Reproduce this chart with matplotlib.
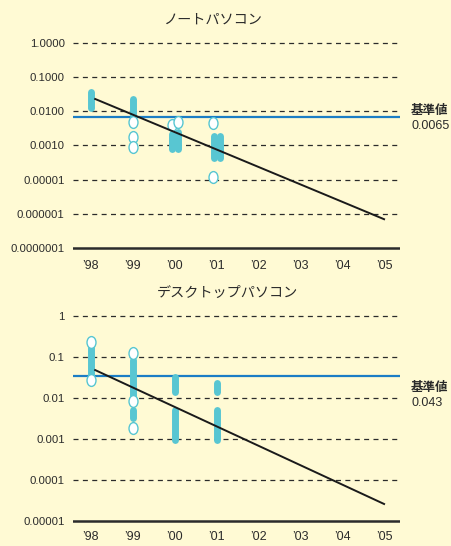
import matplotlib
matplotlib.use("Agg")
import matplotlib.pyplot as plt
from matplotlib.path import Path
from matplotlib.transforms import Affine2D

plt.rcParams['font.family'] = ['Liberation Sans', 'Noto Sans CJK JP', 'DejaVu Sans']

# ---------------- data ----------------
years = [1998, 1999, 2000, 2001, 2002, 2003, 2004, 2005]
year_labels = ["’98", "’99", "’00", "’01", "’02", "’03", "’04", "’05"]

# Notebook PCs (top)
top_title = "ノートパソコン"
top_ticks = [1, 0.1, 0.01, 0.001, 1e-4, 1e-5, 1e-6]
top_tick_labels = ["1.0000", "0.1000", "0.0100", "0.0010", "0.00001", "0.000001", "0.0000001"]
top_ref = 0.0065
top_ref_label = "0.0065"
# filled ranges: (year, x-offset, low, high)
top_bars = [(1998, 0.0, 0.012, 0.037),
            (1999, 0.0, 0.0078, 0.023),
            (2000, -0.07, 0.00076, 0.0021),
            (2000, 0.07, 0.00076, 0.0024),
            (2001, -0.07, 0.00042, 0.0019),
            (2001, 0.07, 0.00042, 0.0019)]
# open points: (year, x-offset, value)
top_points = [(1999, 0.0, 0.0047), (1999, 0.0, 0.0018), (1999, 0.0, 0.00091),
              (2000, -0.07, 0.0039), (2000, 0.07, 0.0049),
              (2001, -0.08, 0.0046), (2001, -0.08, 0.000116)]
top_trend_x = [1998.1, 2005]
top_trend_y = [0.0226, 6.9e-6]

# Desktop PCs (bottom)
bot_title = "デスクトップパソコン"
bot_ticks = [1, 0.1, 0.01, 0.001, 1e-4, 1e-5]
bot_tick_labels = ["1", "0.1", "0.01", "0.001", "0.0001", "0.00001"]
bot_ref = 0.034
bot_ref_label = "0.043"
bot_bars = [(1998, 0.0, 0.0335, 0.178),
            (1999, 0.0, 0.0108, 0.084),
            (1999, 0.0, 0.0032, 0.0051),
            (2000, 0.0, 0.0143, 0.0327),
            (2000, 0.0, 0.00092, 0.0051),
            (2001, 0.0, 0.0143, 0.0237),
            (2001, 0.0, 0.00092, 0.0051)]
bot_points = [(1998, 0.0, 0.236), (1998, 0.0, 0.0275),
              (1999, 0.0, 0.127), (1999, 0.0, 0.0086), (1999, 0.0, 0.0019)]
bot_trend_x = [1998.1, 2005]
bot_trend_y = [0.048, 2.6e-5]

# ---------------- style ----------------
BG = "#FFFAD4"
BAR = "#58C6D2"
REF = "#1B7DC5"
INK = "#2b2b2b"
W, H = 451, 546
ellipse = Path.unit_circle().transformed(Affine2D().scale(0.76, 1.0))

fig = plt.figure(figsize=(W / 100, H / 100), dpi=100, facecolor=BG)

XMIN, XMAX = 1997.57, 2005.38


def make_panel(top_px, px_per_dec, lo_exp, hi_exp, ticks, tick_labels,
               bars, points, ref, ref_label, tx, ty, title, title_xy,
               base_val, ref_label_y, year_y):
    height_px = (hi_exp - lo_exp) * px_per_dec
    top_edge = top_px - hi_exp * px_per_dec
    bottom_px = top_edge + height_px
    ax = fig.add_axes([73 / W, 1 - bottom_px / H, 327 / W, height_px / H])
    ax.set_facecolor("none")
    ax.set_yscale("log")
    ax.set_ylim(10 ** lo_exp, 10 ** hi_exp)
    ax.set_xlim(XMIN, XMAX)
    for s in ax.spines.values():
        s.set_visible(False)
    for t in ticks:
        if t == base_val:
            ax.axhline(t, color=INK, lw=1.8, zorder=1)
        else:
            ax.axhline(t, color=INK, lw=0.9, ls=(0, (4, 3.5)), zorder=1)
    ax.set_yticks(ticks)
    ax.set_yticklabels(tick_labels, fontsize=8.2, color=INK)
    ax.minorticks_off()
    ax.tick_params(axis="y", length=0, pad=6)
    ax.set_xticks([])
    # reference line
    ax.axhline(ref, color=REF, lw=1.6, zorder=2)
    # bars
    for yr, off, lo, hi in bars:
        ax.plot([yr + off, yr + off], [lo, hi], color=BAR, lw=5.0,
                solid_capstyle="round", zorder=3)
    # open points
    for yr, off, v in points:
        ax.plot(yr + off, v, marker=ellipse, ms=8.5, mfc="white", mec=BAR,
                mew=1.0, ls="none", zorder=4)
    # trend
    ax.plot(tx, ty, color="#1a1a1a", lw=1.4, zorder=5)
    # year labels
    for yr, lab in zip(years, year_labels):
        xd = ax.transData.transform((yr, 1))[0]
        fig.text(xd / W, 1 - year_y / H, lab, ha="center", va="center",
                 fontsize=9, color=INK)
    fig.text(title_xy[0] / W, 1 - title_xy[1] / H, title, ha="center",
             va="center", fontsize=10.2, color=INK)
    fig.text(411 / W, 1 - ref_label_y / H, "基準値", ha="left", va="center",
             fontsize=9, fontweight="bold", color=INK)
    fig.text(411 / W, 1 - (ref_label_y + 15) / H, ref_label, ha="left",
             va="center", fontsize=9, color=INK)
    return ax


make_panel(42.7, 34.2, -6.1, 0.25, top_ticks, top_tick_labels, top_bars,
           top_points, top_ref, top_ref_label, top_trend_x, top_trend_y,
           top_title, (212, 20), 1e-6, 111, 266)
make_panel(316, 41.0, -5.1, 0.25, bot_ticks, bot_tick_labels, bot_bars,
           bot_points, bot_ref, bot_ref_label, bot_trend_x, bot_trend_y,
           bot_title, (227, 293), 1e-5, 388, 537)

fig.savefig("out.png", dpi=100, facecolor=BG)
